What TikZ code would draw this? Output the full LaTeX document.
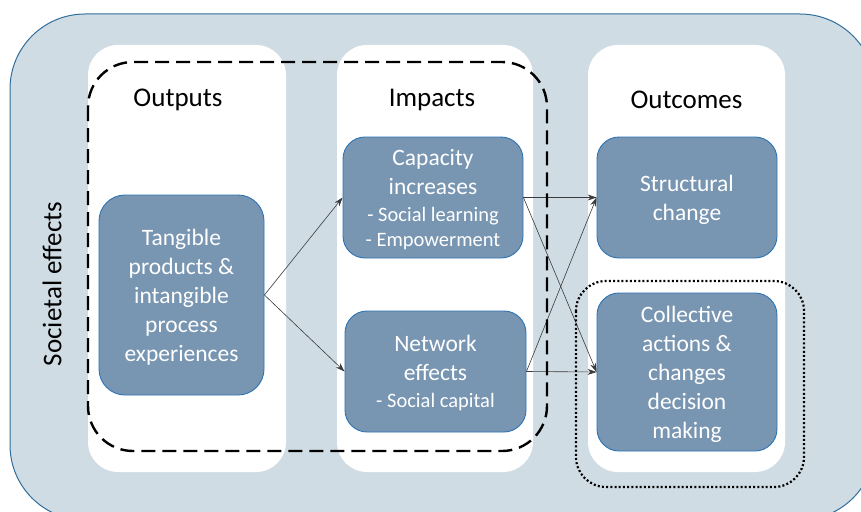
\documentclass[tikz,border=0pt]{standalone}
\usepackage{fontspec}
\setmainfont{Carlito}
\usepackage{xcolor}
\usetikzlibrary{
    positioning,
    arrows.meta,
    backgrounds
}
\definecolor{panelfill}{HTML}{D0DCE4}
\definecolor{panelline}{HTML}{2F6D9C}
\definecolor{boxfill}{HTML}{7895B1}
\definecolor{boxline}{HTML}{2E74B5}
\definecolor{arrowgray}{HTML}{3A3A3A}
\newcommand{\boxfont}{\fontsize{23.5}{29}\selectfont}
\newcommand{\subfont}{\fontsize{20.5}{25}\selectfont}
\newcommand{\titlefont}{\fontsize{27}{32}\selectfont}
\tikzset{
    colbox/.style={
        rectangle, fill=white, rounded corners=30pt,
        minimum height=427pt, inner sep=0pt
    },
    coltitle/.style={
        font=\titlefont, text=black
    },
    dashzone/.style={
        draw=black, line width=2.4pt, dash pattern=on 14pt off 7pt,
        rounded corners=45pt
    },
    dotzone/.style={
        draw=black, line width=2.2pt, dash pattern=on 2pt off 2.2pt,
        rounded corners=30pt
    }
}

\begin{document}
\begin{tikzpicture}[x=1pt, y=-1pt,
	effect/.style={rectangle, draw=boxline, line width=0.9pt, fill=boxfill, rounded corners=22pt, text=white, align=center, font=\boxfont, text depth=0pt, inner sep=0pt},
	arrow/.style={-{Stealth[length=9pt, width=6pt]}, draw=arrowgray, line width=0.6pt}
	]
	\useasboundingbox (0,0) rectangle (861,511);
	
	% PANEL AND COLUMNS
	\draw[draw=panelline, fill=panelfill, line width=1pt, rounded corners=75pt] (10,14) rectangle (875,520);
	\node (outputscol) [colbox, minimum width=198pt] at (187,258.5) {};
	\node (impactscol) [colbox, minimum width=196pt] at (435,258.5) {};
	\node (outcomescol) [colbox, minimum width=197pt] at (686.5,258.5) {};
	
	% LABELS
	\node[coltitle] at (178,100) {Outputs};
	\node[coltitle] at (432,100) {Impacts};
	\node[coltitle] at (686.5,100) {Outcomes};
	\node[font=\titlefont, rotate=90] at (52,284) {Societal effects};
	
	% NODES
	\node (tangible) [effect, minimum width=165pt, minimum height=200pt, rounded corners=26pt] at (181.5,295) {Tangible\\products \&\\intangible\\process\\experiences};
	\node (capacity) [effect, minimum width=180pt, minimum height=121pt] at (433,197.5) {Capacity\\increases\\[-2pt]{\subfont - Social learning}\\[-4pt]{\subfont - Empowerment}};
	\node (network) [effect, minimum width=181pt, minimum height=121pt] at (435.5,371.5) {Network\\effects\\[-2pt]{\subfont - Social capital}};
	\node (structural) [effect, minimum width=180pt, minimum height=121pt] at (687,197.5) {Structural\\change};
	\node (collective) [effect, minimum width=180pt, minimum height=158pt] at (687,372) {Collective\\actions \&\\changes\\decision\\making};
	
	% ARROWS
	\draw[arrow] (tangible.east) -- (capacity.west);
	\draw[arrow] (tangible.east) -- (network.west);
	\draw[arrow] (capacity.east) -- (structural.west);
	\draw[arrow] (capacity.east) -- (collective.west);
	\draw[arrow] (network.east) -- (structural.west);
	\draw[arrow] (network.east) -- (collective.west);
	
	% HIGHLIGHT ZONES
	\draw[dashzone] (88,62) rectangle (547,451);
	\draw[dotzone] (576,281) rectangle (804,487);
	
\end{tikzpicture}
\end{document}
